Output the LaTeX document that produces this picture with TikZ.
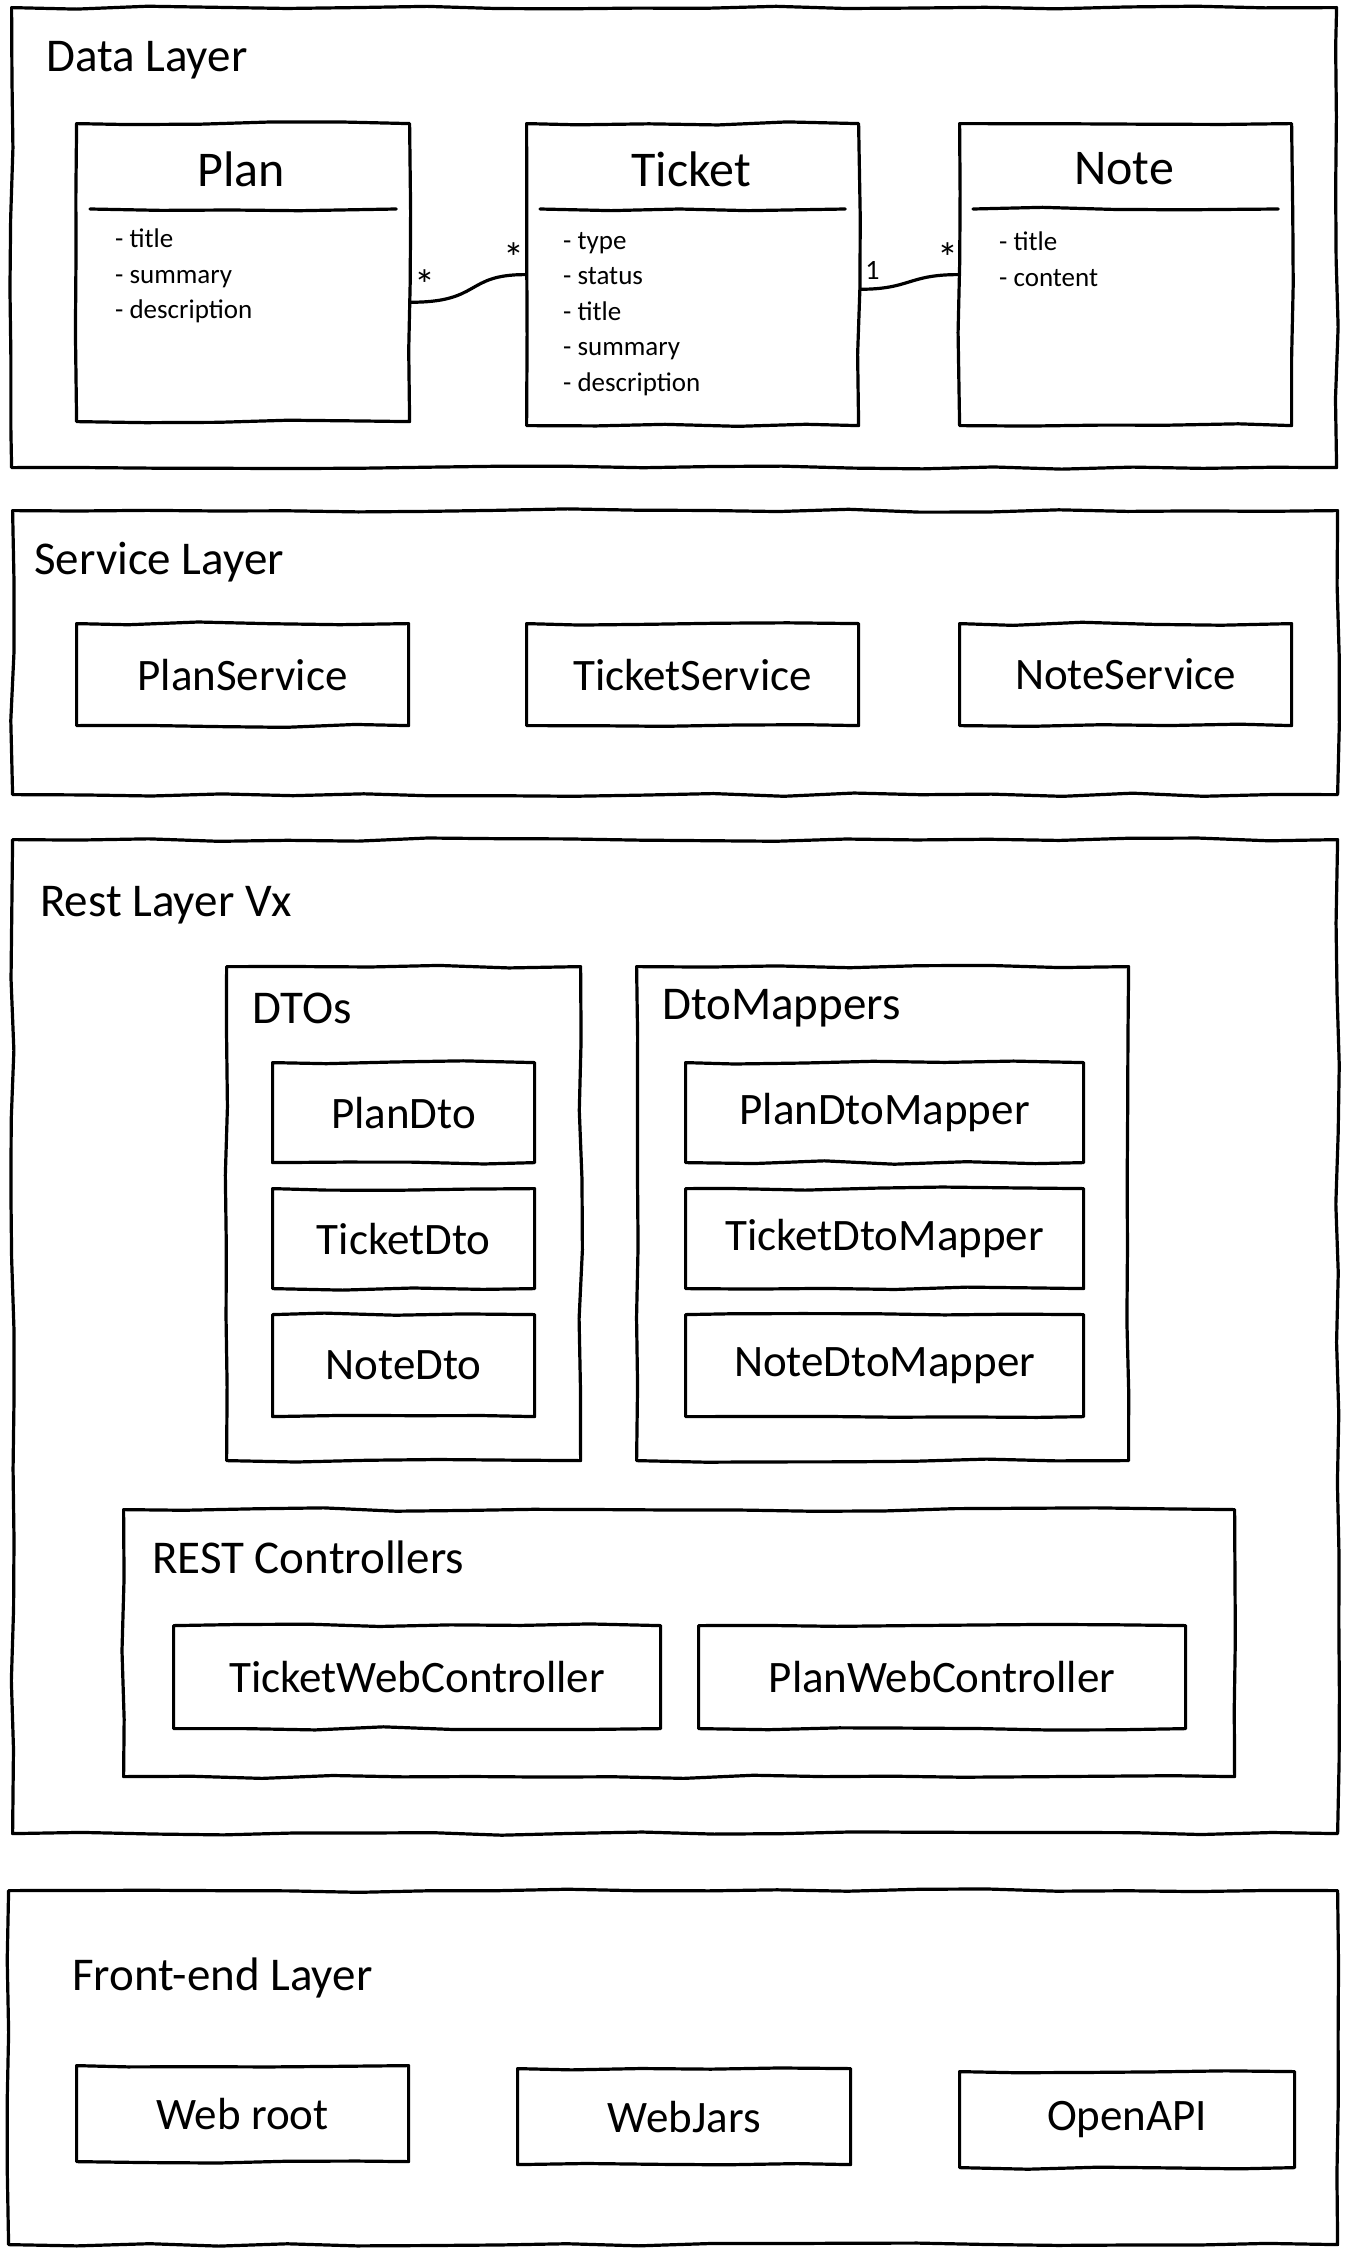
\documentclass[tikz,border=0pt]{standalone}
\usepackage{fontspec}
\setmainfont{Carlito}
\usetikzlibrary{positioning,decorations.pathmorphing}

\tikzset{
  sketch/.style={draw, line width=3.2pt, line join=round, line cap=round,
    decorate, decoration={random steps, segment length=70pt, amplitude=1.8pt}},
  layer/.style={sketch, anchor=north west, inner sep=0pt},
  box/.style={sketch, anchor=north west, inner sep=0pt, font=\fontsize{45}{50}\selectfont},
  caption/.style={anchor=west, inner sep=0pt, font=\fontsize{47}{52}\selectfont},
  classtitle/.style={inner sep=0pt, font=\fontsize{50}{56}\selectfont},
  attrs/.style={anchor=north west, align=left, inner sep=0pt, font=\fontsize{27}{35.5}\selectfont},
  mult/.style={inner sep=1pt, font=\fontsize{42}{42}\selectfont},
  link/.style={line width=3.2pt, line cap=round},
}

\begin{document}
\begin{tikzpicture}[x=1pt, y=-1pt]
  \pgfmathsetseed{11}
  \fill[white] (0,0) rectangle (1356,2248);
  \useasboundingbox (0,0) rectangle (1356,2248);

  % layers
  \node[layer, minimum width=1325pt, minimum height=460pt] (datalayer) at (10,6) {};
  \node[layer, minimum width=1325pt, minimum height=284pt] (servicelayer) at (11,509) {};
  \node[layer, minimum width=1325pt, minimum height=994pt] (restlayer) at (11,838) {};
  \node[layer, minimum width=1329pt, minimum height=354pt] (frontlayer) at (7,1889) {};

  \node[caption] (datatitle) at (46,60) {Data Layer};
  \node[caption] (servicetitle) at (34,562) {Service Layer};
  \node[caption] (resttitle) at (40,905) {Rest Layer Vx};
  \node[caption] (fronttitle) at (72,1978) {Front-end Layer};

  % data layer: classes
  \node[layer, minimum width=333pt, minimum height=298pt] (plan) at (75,122) {};
  \node[layer, minimum width=332pt, minimum height=302pt] (ticket) at (525,122) {};
  \node[layer, minimum width=332pt, minimum height=302pt] (note) at (958,122) {};

  \node[classtitle] (plantitle) at (241,169) {Plan};
  \node[classtitle] (tickettitle) at (691,169) {Ticket};
  \node[classtitle] (notetitle) at (1124,169) {Note};

  \draw[sketch] ([shift={(15,87)}]plan.north west) -- ([shift={(-15,87)}]plan.north east);
  \draw[sketch] ([shift={(15,87)}]ticket.north west) -- ([shift={(-15,87)}]ticket.north east);
  \draw[sketch] ([shift={(15,87)}]note.north west) -- ([shift={(-15,87)}]note.north east);

  \node[attrs] (planattrs) at (115,229) {- title\\- summary\\- description};
  \node[attrs] (ticketattrs) at (563,232) {- type\\- status\\- title\\- summary\\- description};
  \node[attrs] (noteattrs) at (999,232) {- title\\- content};

  \draw[link] (plan.-10) .. controls +(70,0) and +(-60,0) .. (ticket.west)
    node[mult, pos=0.07, above] {*}
    node[mult, pos=0.93, above] {*};
  \draw[link] (ticket.-5) .. controls +(50,0) and +(-50,0) .. (note.west)
    node[mult, pos=0.09, above=7pt, font=\fontsize{28}{28}\selectfont] {1}
    node[mult, pos=0.93, above] {*};

  % service layer
  \node[box, minimum width=332pt, minimum height=102pt] (planservice) at (75,622) {PlanService};
  \node[box, minimum width=332pt, minimum height=102pt] (ticketservice) at (525,622) {TicketService};
  \node[box, minimum width=332pt, minimum height=102pt] (noteservice) at (958,622) {NoteService};

  % rest layer
  \node[layer, minimum width=354pt, minimum height=494pt] (dtos) at (225,965) {};
  \node[layer, minimum width=492pt, minimum height=494pt] (mappers) at (635,965) {};
  \node[caption] (dtostitle) at (252,1008) {DTOs};
  \node[caption] (mapperstitle) at (662,1008) {DtoMappers};

  \node[box, minimum width=262pt, minimum height=100pt] (plandto) at (271,1061) {PlanDto};
  \node[box, minimum width=262pt, minimum height=100pt] (ticketdto) at (271,1187) {TicketDto};
  \node[box, minimum width=262pt, minimum height=102pt] (notedto) at (271,1313) {NoteDto};

  \node[box, minimum width=398pt, minimum height=100pt] (planmapper) at (684,1061) {PlanDtoMapper};
  \node[box, minimum width=398pt, minimum height=100pt] (ticketmapper) at (684,1187) {TicketDtoMapper};
  \node[box, minimum width=398pt, minimum height=102pt] (notemapper) at (684,1313) {NoteDtoMapper};

  \node[layer, minimum width=1111pt, minimum height=267pt] (controllers) at (122,1508) {};
  \node[caption] (controllerstitle) at (152,1557) {REST Controllers};
  \node[box, minimum width=487pt, minimum height=103pt] (ticketctrl) at (172,1624) {TicketWebController};
  \node[box, minimum width=487pt, minimum height=103pt] (planctrl) at (697,1624) {PlanWebController};

  % front-end layer
  \node[box, minimum width=332pt, minimum height=96pt] (webroot) at (75,2064) {Web root};
  \node[box, minimum width=333pt, minimum height=96pt] (webjars) at (516,2067) {WebJars};
  \node[box, minimum width=335pt, minimum height=96pt] (openapi) at (958,2070) {OpenAPI};
\end{tikzpicture}
\end{document}
